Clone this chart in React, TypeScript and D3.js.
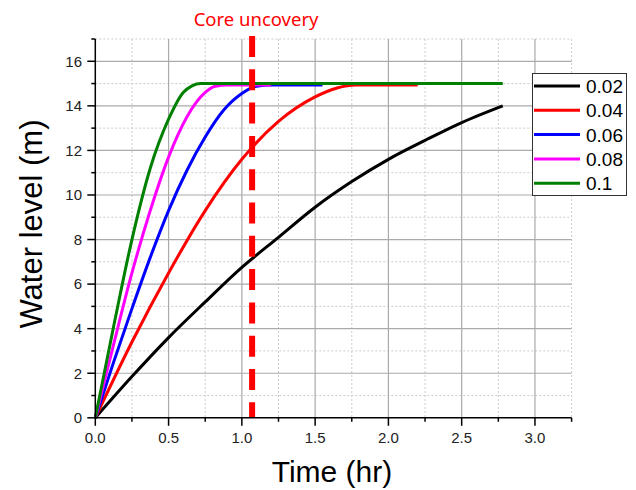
import React from 'react'
import * as d3 from 'd3'

// values
const t002 = [0, 0.25, 0.5, 0.75, 1.0, 1.25, 1.5, 1.75, 2.0, 2.25, 2.5, 2.78]
const v002 = [0, 1.85, 3.6, 5.2, 6.75, 8.1, 9.45, 10.6, 11.6, 12.45, 13.25, 14.0]

const t004 = [0, 0.25, 0.5, 0.75, 1.0, 1.25, 1.5, 1.65, 1.78, 2.2]
const v004 = [0, 3.4, 6.5, 9.3, 11.6, 13.3, 14.4, 14.8, 14.93, 14.93]

const t006 = [0, 0.125, 0.25, 0.375, 0.5, 0.625, 0.75, 0.875, 1.0, 1.1, 1.2, 1.55]
const v006 = [0, 2.5, 4.9, 7.2, 9.3, 11.1, 12.6, 13.8, 14.55, 14.88, 14.93, 14.93]

const t008 = [0, 0.125, 0.25, 0.375, 0.5, 0.625, 0.75, 0.82, 0.9, 1.2]
const v008 = [0, 3.3, 6.5, 9.3, 11.7, 13.5, 14.6, 14.88, 14.93, 14.93]

const t01 = [0, 0.125, 0.25, 0.375, 0.5, 0.6, 0.66, 0.72, 2.78]
const v01 = [0, 4.1, 8.0, 11.2, 13.4, 14.6, 14.9, 15, 15]

const seriesNames = ['0.02', '0.04', '0.06', '0.08', '0.1']
const seriesColors = ['#000000', '#ff0000', '#0000ff', '#ff00ff', '#008000']
const seriesT = [t002, t004, t006, t008, t01]
const seriesV = [v002, v004, v006, v008, v01]

const xMajor = [0, 0.5, 1.0, 1.5, 2.0, 2.5, 3.0]
const xMinor = [0.25, 0.75, 1.25, 1.75, 2.25, 2.75, 3.25]
const yMajor = [0, 2, 4, 6, 8, 10, 12, 14, 16]
const yMinor = [1, 3, 5, 7, 9, 11, 13, 15, 17]

const coreUncovery = 1.07

const W = 636
const H = 490
const FONT = 'Arial, "Liberation Sans", sans-serif'

export default function App() {
  const x = d3.scaleLinear().domain([0, 3.25]).range([95.3, 571.6])
  const y = d3.scaleLinear().domain([0, 17]).range([417.8, 39])

  const line = d3
    .line<[number, number]>()
    .x(d => x(d[0]))
    .y(d => y(d[1]))
    .curve(d3.curveMonotoneX)

  const x0 = x(0)
  const x1 = x(3.25)
  const y0 = y(0)
  const y1 = y(17)

  return (
    <div style={{ position: 'absolute', left: 0, top: 0 }}>
      <svg width={W} height={H} style={{ display: 'block', background: '#fff' }}>
        {/* minor grid */}
        <g stroke="#cccccc" strokeWidth={1} strokeDasharray="2,2">
          {xMinor.map(t => (
            <line key={'xm' + t} x1={x(t)} x2={x(t)} y1={y1} y2={y0} />
          ))}
          {yMinor.map(v => (
            <line key={'ym' + v} x1={x0} x2={x1} y1={y(v)} y2={y(v)} />
          ))}
        </g>
        {/* major grid */}
        <g stroke="#aaaaaa" strokeWidth={1.2}>
          {xMajor.slice(1).map(t => (
            <line key={'xg' + t} x1={x(t)} x2={x(t)} y1={y1} y2={y0} />
          ))}
          {yMajor.slice(1).map(v => (
            <line key={'yg' + v} x1={x0} x2={x1} y1={y(v)} y2={y(v)} />
          ))}
        </g>

        {/* curves */}
        {seriesNames.map((name, i) => (
          <path
            key={name}
            d={line(seriesT[i].map((t, j) => [t, seriesV[i][j]] as [number, number])) || ''}
            fill="none"
            stroke={seriesColors[i]}
            strokeWidth={3}
            strokeLinejoin="round"
          />
        ))}

        {/* core uncovery marker */}
        <line
          x1={x(coreUncovery)}
          x2={x(coreUncovery)}
          y1={36}
          y2={y0}
          stroke="#ff0000"
          strokeWidth={6}
          strokeDasharray="21,12.3"
        />
        <text
          x={x(coreUncovery) + 4}
          y={26}
          textAnchor="middle"
          fill="#ff0000"
          fontFamily='"Noto Sans", sans-serif'
          fontSize={18.5}
        >
          Core uncovery
        </text>

        {/* axes */}
        <g stroke="#000" strokeWidth={1.5}>
          <line x1={x0} x2={x0} y1={y1} y2={y0 + 0.75} />
          <line x1={x0 - 0.75} x2={x1} y1={y0} y2={y0} />
          {xMajor.map(t => (
            <line key={'xt' + t} x1={x(t)} x2={x(t)} y1={y0} y2={y0 + 8} />
          ))}
          {xMinor.map(t => (
            <line key={'xmt' + t} x1={x(t)} x2={x(t)} y1={y0} y2={y0 + 4} />
          ))}
          {yMajor.map(v => (
            <line key={'yt' + v} x1={x0 - 8} x2={x0} y1={y(v)} y2={y(v)} />
          ))}
          {yMinor.map(v => (
            <line key={'ymt' + v} x1={x0 - 4} x2={x0} y1={y(v)} y2={y(v)} />
          ))}
        </g>
        <g fontFamily={FONT} fontSize={15} fill="#222">
          {xMajor.map(t => (
            <text key={'xl' + t} x={x(t)} y={443} textAnchor="middle">
              {d3.format('.1f')(t)}
            </text>
          ))}
          {yMajor.map(v => (
            <text key={'yl' + v} x={82} y={y(v) + 5.3} textAnchor="end">
              {v}
            </text>
          ))}
        </g>

        {/* axis titles */}
        <text x={332} y={482} textAnchor="middle" fontFamily={FONT} fontSize={30} fill="#000">
          Time (hr)
        </text>
        <text
          transform={`translate(42,224) rotate(-90)`}
          textAnchor="middle"
          fontFamily={FONT}
          fontSize={31}
          fill="#000"
        >
          Water level (m)
        </text>

        {/* legend */}
        <rect x={532.5} y={73.5} width={94} height={122} fill="#fff" stroke="#333" strokeWidth={1} />
        {seriesNames.map((name, i) => (
          <g key={'lg' + name} transform={`translate(0,${86 + i * 24.3})`}>
            <line x1={534} x2={580} y1={0} y2={0} stroke={seriesColors[i]} strokeWidth={3} />
            <text x={586} y={7} fontFamily={FONT} fontSize={19} fill="#000">
              {name}
            </text>
          </g>
        ))}
      </svg>
    </div>
  )
}
